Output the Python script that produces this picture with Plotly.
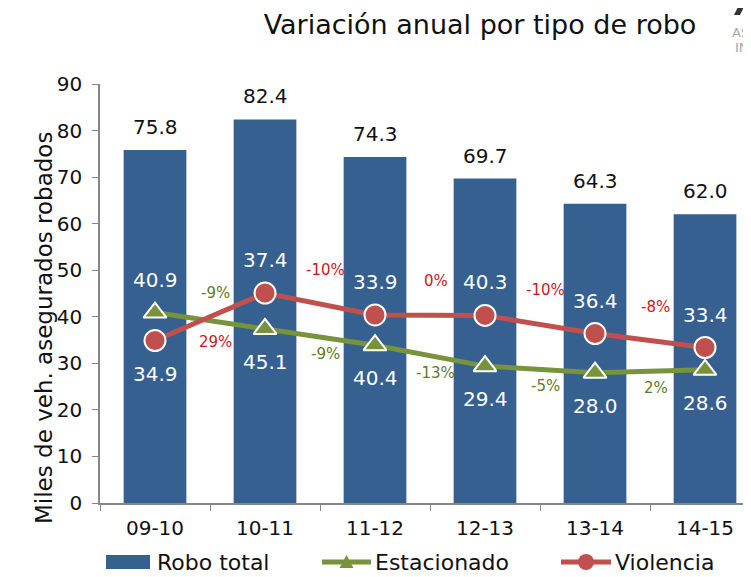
import plotly.graph_objects as go

categories = ["09-10", "10-11", "11-12", "12-13", "13-14", "14-15"]
robo_total = [75.8, 82.4, 74.3, 69.7, 64.3, 62.0]
estacionado = [40.9, 37.4, 33.9, 29.4, 28.0, 28.6]
violencia = [34.9, 45.1, 40.4, 40.3, 36.4, 33.4]
# data labels as printed in the reference (upper / lower label per category)
label_upper = [40.9, 37.4, 33.9, 40.3, 36.4, 33.4]
label_lower = [34.9, 45.1, 40.4, 29.4, 28.0, 28.6]
y_ticks = [0, 10, 20, 30, 40, 50, 60, 70, 80, 90]

FONT = "DejaVu Sans"
BAR_C = "#36608F"
GREEN = "#77933C"
RED = "#C0504D"
GREEN_TXT = "#5F7A2A"
RED_TXT = "#C8171E"
TXT = "#111111"

# page body has an 8px margin -> figure coords = screen coords - 8
OFF = 8
W, H = 751 - OFF, 577 - OFF
ML, MR, MT, MB = 100 - OFF, 0, 84 - OFF, 577 - 503
PW = W - ML - MR
PH = H - MT - MB


def px_x(px):
    return (px - OFF - ML) / PW


def px_y(py):
    return (H - MB - (py - OFF)) / PH


# side of percentage labels (style)
green_side = [1, -1, -1, -1, -1]
red_side = [-1, 1, 1, 1, 1]

fig = go.Figure()
fig.add_trace(go.Bar(x=categories, y=robo_total, name="Robo total",
                     marker=dict(color=BAR_C, line=dict(width=0)), width=0.57))
fig.add_trace(go.Scatter(x=categories, y=estacionado, name="Estacionado", mode="lines+markers",
                         line=dict(color=GREEN, width=5),
                         marker=dict(symbol="triangle-up", size=20, color=GREEN,
                                     line=dict(color="white", width=2))))
fig.add_trace(go.Scatter(x=categories, y=violencia, name="Violencia", mode="lines+markers",
                         line=dict(color=RED, width=5),
                         marker=dict(symbol="circle", size=21, color=RED,
                                     line=dict(color="white", width=2))))

ann = []
for i, v in enumerate(robo_total):
    ann.append(dict(x=i, y=v, xref="x", yref="y", text=f"{v:.1f}", showarrow=False,
                    yanchor="middle", yshift=23, font=dict(family=FONT, size=20, color=TXT)))
for i in range(len(categories)):
    hi = max(estacionado[i], violencia[i])
    lo = min(estacionado[i], violencia[i])
    ann.append(dict(x=i, y=hi, xref="x", yref="y", text=f"{label_upper[i]:.1f}", showarrow=False,
                    yanchor="middle", yshift=33, font=dict(family=FONT, size=20, color="white")))
    ann.append(dict(x=i, y=lo, xref="x", yref="y", text=f"{label_lower[i]:.1f}", showarrow=False,
                    yanchor="middle", yshift=-33, font=dict(family=FONT, size=20, color="white")))
for i in range(1, len(categories)):
    g = round((estacionado[i] / estacionado[i - 1] - 1) * 100)
    r = round((violencia[i] / violencia[i - 1] - 1) * 100)
    gm = (estacionado[i] + estacionado[i - 1]) / 2
    rm = (violencia[i] + violencia[i - 1]) / 2
    s = green_side[i - 1]
    ann.append(dict(x=i - 0.45, y=gm, xref="x", yref="y", text=f"{g:d}%", showarrow=False,
                    yanchor="middle", yshift=(28 if s > 0 else -17),
                    font=dict(family=FONT, size=15, color=GREEN_TXT)))
    s = red_side[i - 1]
    ann.append(dict(x=i - 0.45, y=rm, xref="x", yref="y", text=f"{r:d}%", showarrow=False,
                    yanchor="middle", yshift=(34 if s > 0 else -25),
                    font=dict(family=FONT, size=15, color=RED_TXT)))
# y axis title
ann.append(dict(x=px_x(29), y=px_y(328), xref="paper", yref="paper", text="Miles de veh. asegurados robados",
                showarrow=False, textangle=-90, font=dict(family=FONT, size=23, color=TXT)))
# partial logo text
ann.append(dict(x=1.0, y=px_y(32), xref="paper", yref="paper", text="AS", showarrow=False,
                xanchor="right", yanchor="middle", font=dict(family=FONT, size=13, color="#a8a8a8")))
ann.append(dict(x=1.0, y=px_y(47), xref="paper", yref="paper", text="IN", showarrow=False,
                xanchor="right", yanchor="middle", font=dict(family=FONT, size=13, color="#a8a8a8")))

# custom legend
leg_y = px_y(562)
shapes = [
    dict(type="rect", xref="paper", yref="paper", x0=px_x(106), x1=px_x(150), y0=px_y(569), y1=px_y(555),
         fillcolor=BAR_C, line=dict(width=0)),
    dict(type="line", xref="paper", yref="paper", x0=px_x(322), x1=px_x(371), y0=leg_y, y1=leg_y,
         line=dict(color=GREEN, width=5)),
    dict(type="path", xref="paper", yref="paper", xsizemode="pixel", ysizemode="pixel",
         xanchor=px_x(346.5), yanchor=leg_y, path="M -7,-6 L 7,-6 L 0,7 Z",
         fillcolor=GREEN, line=dict(width=0)),
    dict(type="line", xref="paper", yref="paper", x0=px_x(561), x1=px_x(611), y0=leg_y, y1=leg_y,
         line=dict(color=RED, width=5)),
    dict(type="circle", xref="paper", yref="paper", xsizemode="pixel", ysizemode="pixel",
         xanchor=px_x(586), yanchor=leg_y, x0=-8, x1=8, y0=-8, y1=8,
         fillcolor=RED, line=dict(width=0)),
    # partial logo mark at the top right corner
    dict(type="path", xref="paper", yref="paper", xsizemode="pixel", ysizemode="pixel",
         xanchor=px_x(738), yanchor=px_y(12), path="M -4,-3 L 2,-3 L 6,5 L 0,5 Z",
         fillcolor="#333333", line=dict(width=0)),
]
for name, xpx in [("Robo total", 155), ("Estacionado", 373), ("Violencia", 613)]:
    ann.append(dict(x=px_x(xpx), y=leg_y, xref="paper", yref="paper", text=name, showarrow=False,
                    xanchor="left", yanchor="middle", font=dict(family=FONT, size=22, color=TXT)))

fig.update_layout(
    width=W, height=H,
    margin=dict(l=ML, r=MR, t=MT, b=MB, autoexpand=False),
    paper_bgcolor="white", plot_bgcolor="white",
    title=dict(text="Variación anual por tipo de robo", x=(480 - OFF) / W, xanchor="center", xref="container",
               y=1 - (25 - OFF) / H, yanchor="middle", yref="container",
               font=dict(family=FONT, size=27, color=TXT)),
    bargap=0.43,
    showlegend=False,
    annotations=ann,
    shapes=shapes,
    font=dict(family=FONT),
)
fig.update_xaxes(type="category", range=[-0.5, 5.418], showline=True, linecolor="#868686", linewidth=1.5,
                 ticks="outside", tickson="boundaries", ticklen=6, tickcolor="#868686",
                 ticklabelstandoff=6,
                 tickfont=dict(family=FONT, size=20, color=TXT), showgrid=False, zeroline=False)
fig.update_yaxes(range=[0, 90], tickvals=y_ticks, showline=True, linecolor="#868686", linewidth=1.5,
                 ticks="outside", ticklen=6, tickcolor="#868686", showgrid=False, zeroline=False,
                 ticklabelstandoff=6,
                 tickfont=dict(family=FONT, size=20, color=TXT))

fig.write_html("out.html")
